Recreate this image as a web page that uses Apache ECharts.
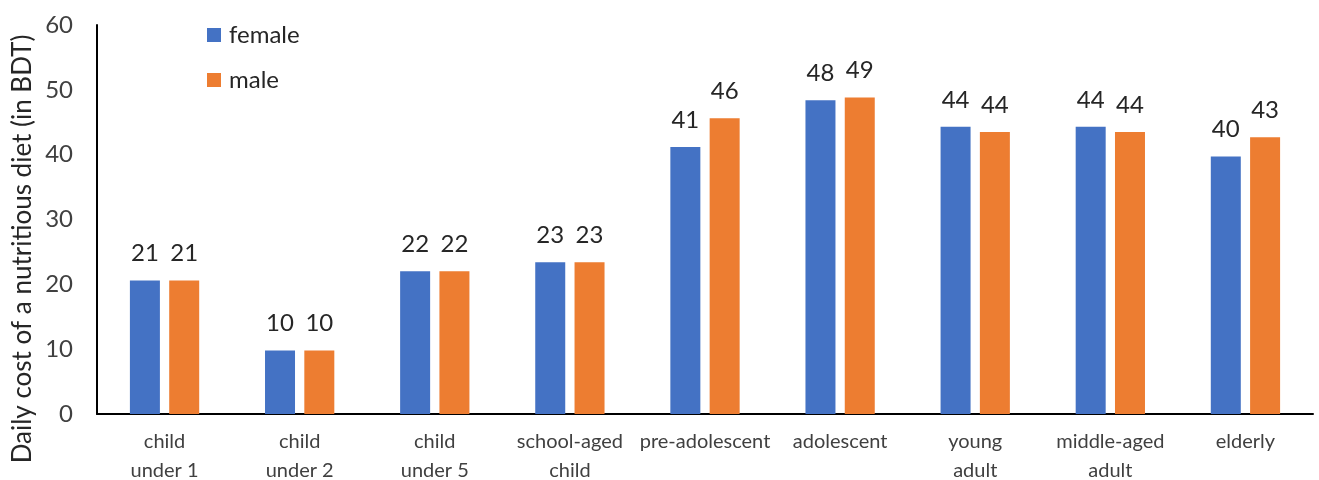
<!DOCTYPE html>
<html><head><meta charset="utf-8">
<script src="https://cdn.jsdelivr.net/npm/echarts@6/dist/echarts.min.js"></script>
<style>html,body{margin:0;padding:0;background:#fff}#c{width:1319px;height:480px}</style>
</head><body><div id="c"></div>
<script>
const categories = ['child\nunder 1','child\nunder 2','child\nunder 5','school-aged\nchild','pre-adolescent','adolescent','young\nadult','middle-aged\nadult','elderly'];
const female = [20.6, 9.8, 22.0, 23.4, 41.2, 48.4, 44.3, 44.3, 39.7];
const male   = [20.6, 9.8, 22.0, 23.4, 45.6, 48.8, 43.5, 43.5, 42.7];
const yTicks = [0, 10, 20, 30, 40, 50, 60];
const yTitle = 'Daily cost of a nutritious diet (in BDT)';

const FONT = 'Lato';
const chart = echarts.init(document.getElementById('c'));
const lbl = {
  show: true, position: 'top', distance: 15,
  fontFamily: FONT, fontSize: 24, color: '#262626',
  formatter: p => Math.round(p.value).toString()
};
chart.setOption({
  animation: false,
  textStyle: { fontFamily: FONT },
  grid: { left: 97, right: 6, top: 25, bottom: 66, containLabel: false, outerBoundsMode: 'none' },
  legend: {
    orient: 'vertical', left: 202, top: 18,
    icon: 'rect', itemWidth: 14, itemHeight: 14, itemGap: 21,
    textStyle: { fontFamily: FONT, fontSize: 24, color: '#262626', padding: [0,0,0,3] },
    data: ['female', 'male']
  },
  xAxis: {
    type: 'category', data: categories,
    axisLine: { lineStyle: { color: '#000', width: 2 } },
    axisTick: { show: false },
    axisLabel: { fontFamily: FONT, fontSize: 20, color: '#404040', margin: 13, lineHeight: 29, interval: 0 }
  },
  yAxis: {
    type: 'value', min: yTicks[0], max: yTicks[yTicks.length-1], interval: 10,
    axisLine: { show: true, lineStyle: { color: '#000', width: 2 } },
    axisTick: { show: false },
    splitLine: { show: false },
    axisLabel: { fontFamily: FONT, fontSize: 24, color: '#404040', margin: 24 }
  },
  graphic: [{
    type: 'text', x: 23, y: 249,
    rotation: Math.PI / 2,
    style: { text: yTitle, x: 0, y: 0, align: 'center', verticalAlign: 'middle', fontFamily: FONT, fontSize: 26, fill: '#262626' }
  }],
  series: [
    { name: 'female', type: 'bar', data: female, barWidth: 30, barGap: '31%', itemStyle: { color: '#4472C4' }, label: lbl },
    { name: 'male', type: 'bar', data: male, barWidth: 30, barGap: '31%', itemStyle: { color: '#ED7D31' }, label: lbl }
  ]
});
</script></body></html>
